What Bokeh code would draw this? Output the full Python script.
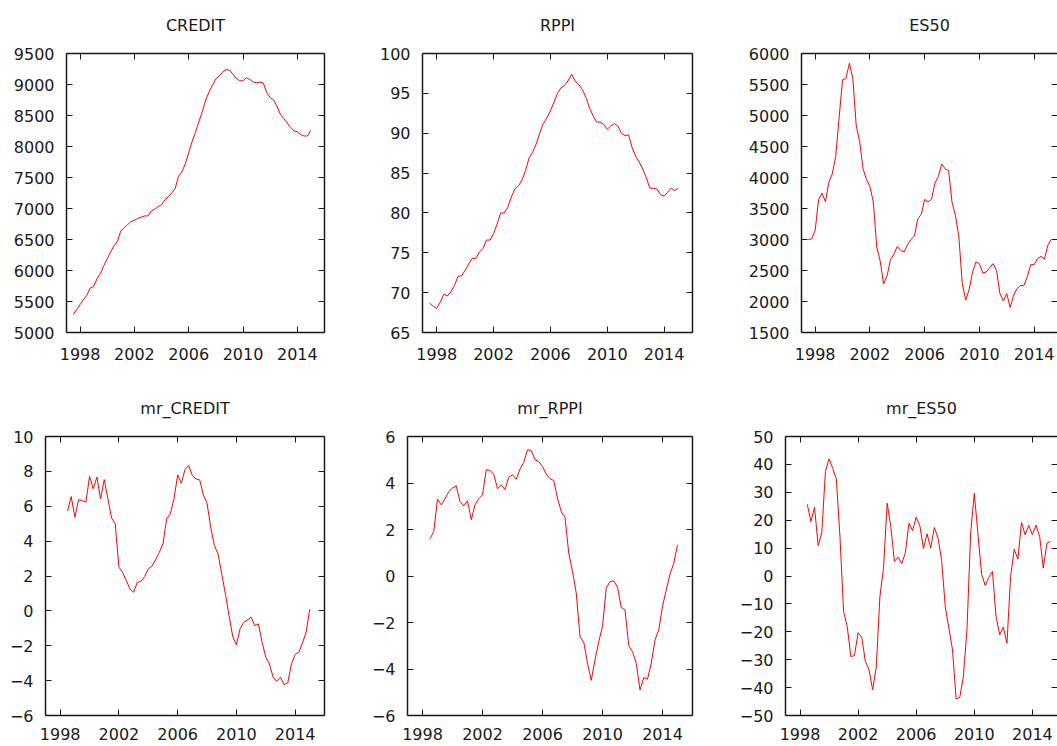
from bokeh.plotting import figure
from bokeh.layouts import column, row
from bokeh.models import LinearAxis, FixedTicker, Range1d, CustomJSTickFormatter
from bokeh.embed import file_html
from bokeh.resources import INLINE

# ---- data (quarterly, x = year + (quarter-1)/4) ----
start_level = 1997.5      # 1997Q3
start_growth = 1998.5     # 1998Q3

credit = [5290, 5370, 5450, 5530, 5600, 5720, 5740, 5870, 5950, 6080,
          6190, 6300, 6400, 6470, 6640, 6690, 6740, 6790, 6810, 6840,
          6860, 6880, 6880, 6960, 6990, 7030, 7060, 7140, 7190, 7250,
          7320, 7520, 7590, 7720, 7900, 8080, 8230, 8400, 8560, 8750,
          8880, 8990, 9090, 9140, 9200, 9240, 9230, 9170, 9100, 9060,
          9060, 9110, 9080, 9040, 9030, 9040, 9020, 8870, 8790, 8750,
          8650, 8520, 8450, 8380, 8310, 8250, 8240, 8190, 8170, 8170,
          8260]

rppi = [68.7, 68.3, 68.0, 68.8, 69.8, 69.6, 70.1, 70.9, 72.05, 72.1,
        72.8, 73.6, 74.3, 74.25, 75.1, 75.5, 76.6, 76.6, 77.4, 78.6,
        80.0, 80.0, 80.7, 82.0, 83.0, 83.4, 84.1, 85.3, 86.9, 87.6,
        88.65, 90.0, 91.2, 91.9, 92.8, 93.9, 95.0, 95.7, 96.0, 96.6,
        97.4, 96.5, 96.1, 95.5, 94.5, 93.2, 92.2, 91.4, 91.4, 91.1,
        90.5, 90.9, 91.2, 90.9, 90.0, 89.7, 89.8, 88.2, 87.1, 86.4,
        85.5, 84.4, 83.1, 83.1, 83.0, 82.3, 82.1, 82.6, 83.1, 82.8,
        83.1]

es50 = [3000, 3010, 3150, 3646, 3748, 3608, 3925, 4058, 4337, 4970,
        5576, 5598, 5845, 5598, 4836, 4579, 4139, 3967, 3855, 3603,
        2879, 2653, 2283, 2407, 2675, 2761, 2889, 2825, 2798, 2916,
        3002, 3056, 3335, 3404, 3646, 3608, 3651, 3908, 4016, 4220,
        4139, 4112, 3603, 3388, 3040, 2289, 2021, 2192, 2476, 2637,
        2611, 2460, 2476, 2546, 2611, 2503, 2128, 2010, 2128, 1903,
        2101, 2208, 2257, 2257, 2396, 2595, 2595, 2691, 2729, 2680,
        2906, 3000]

mr_credit = [5.72, 6.56, 5.37, 6.37, 6.33, 6.23, 7.71, 7.0, 7.67, 6.42,
             7.53, 6.42, 5.33, 4.99, 2.5, 2.22, 1.74, 1.26, 1.07, 1.64,
             1.68, 1.97, 2.41, 2.56, 2.94, 3.36, 3.84, 5.28, 5.56, 6.42,
             7.8, 7.32, 8.11, 8.34, 7.76, 7.57, 7.51, 6.65, 6.18, 4.8,
             3.75, 3.27, 2.12, 0.98, -0.27, -1.47, -1.95, -1.03, -0.65, -0.52,
             -0.36, -0.84, -0.75, -1.8, -2.66, -3.04, -3.8, -4.05, -3.8, -4.23,
             -4.13, -3.04, -2.5, -2.37, -1.84, -1.22, 0.11]

mr_rppi = [1.6, 1.91, 3.3, 3.06, 3.32, 3.63, 3.78, 3.88, 3.2, 3.02,
           3.23, 2.42, 3.06, 3.32, 3.49, 4.57, 4.54, 4.38, 3.75, 3.92,
           3.71, 4.25, 4.35, 4.16, 4.6, 4.88, 5.43, 5.4, 5.0, 4.92,
           4.71, 4.38, 4.18, 4.11, 3.35, 2.77, 2.52, 0.98, 0.19, -0.74,
           -2.6, -2.85, -3.75, -4.49, -3.61, -2.82, -2.17, -0.52, -0.24, -0.21,
           -0.48, -1.35, -1.46, -2.99, -3.25, -3.75, -4.9, -4.37, -4.44, -3.75,
           -2.75, -2.32, -1.31, -0.6, 0.08, 0.55, 1.34]

mr_es50 = [25.7, 19.5, 24.6, 10.9, 15.6, 37.5, 42.0, 38.6, 34.8, 14.2,
           -12.7, -18.1, -28.9, -28.5, -20.3, -22.0, -30.6, -33.6, -40.8, -32.7,
           -7.35, 2.8, 26.1, 17.7, 5.2, 6.75, 4.4, 8.2, 18.9, 16.3,
           21.1, 18.0, 9.9, 15.1, 10.0, 17.4, 13.6, 5.8, -10.9, -18.7,
           -26.5, -44.1, -43.5, -36.0, -18.7, 15.4, 29.7, 15.1, 0.8, -3.4,
           -0.5, 1.6, -14.5, -21.1, -18.3, -24.1, -0.2, 9.6, 6.0, 19.2,
           14.8, 18.1, 14.8, 18.2, 14.2, 2.8, 11.8, 12.4]

year_ticks = [1998, 2002, 2006, 2010, 2014]
credit_ticks = [5000, 5500, 6000, 6500, 7000, 7500, 8000, 8500, 9000, 9500]
rppi_ticks = [65, 70, 75, 80, 85, 90, 95, 100]
es50_ticks = [1500, 2000, 2500, 3000, 3500, 4000, 4500, 5000, 5500, 6000]
mr_credit_ticks = [-6, -4, -2, 0, 2, 4, 6, 8, 10]
mr_rppi_ticks = [-6, -4, -2, 0, 2, 4, 6]
mr_es50_ticks = [-50, -40, -30, -20, -10, 0, 10, 20, 30, 40, 50]


def quarters(start, n):
    return [start + 0.25 * i for i in range(n)]


FONT = "DejaVu Sans"
FSIZE = "16px"
INK = "#1a1a1a"
BLANK = CustomJSTickFormatter(code="return ''")


def style_axis(ax, ticks, labels, standoff):
    ax.ticker = FixedTicker(ticks=ticks)
    ax.major_tick_in = 6
    ax.major_tick_out = 0
    ax.minor_tick_in = 0
    ax.minor_tick_out = 0
    ax.axis_line_color = INK
    ax.axis_line_width = 1.5
    ax.major_tick_line_color = INK
    ax.major_tick_line_width = 1
    ax.major_label_text_font = FONT
    ax.major_label_text_color = INK
    if labels:
        ax.major_label_text_font_size = FSIZE
        ax.major_label_standoff = standoff
    else:
        ax.formatter = BLANK
        ax.major_label_text_font_size = "0px"
        ax.major_label_standoff = 0


def panel(title, xs, ys, yticks, width, height, left, right, top, bottom,
          x_end, x_standoff, title_gap, right_line=True):
    p = figure(width=width, height=height,
               x_range=Range1d(1997, x_end),
               y_range=Range1d(yticks[0], yticks[-1]),
               output_backend="svg", toolbar_location=None,
               x_axis_location=None, y_axis_location=None,
               min_border_left=left, min_border_right=right,
               min_border_top=top, min_border_bottom=bottom)
    p.outline_line_color = None
    p.xgrid.visible = False
    p.ygrid.visible = False
    p.background_fill_color = "white"
    p.border_fill_color = "white"

    bx = LinearAxis()
    style_axis(bx, year_ticks, True, x_standoff)
    p.add_layout(bx, "below")
    ly = LinearAxis()
    style_axis(ly, yticks, True, 12)
    p.add_layout(ly, "left")

    # top frame edge with mirrored ticks; it carries the panel title
    tx = LinearAxis()
    style_axis(tx, year_ticks, False, 0)
    tx.axis_label = title
    tx.axis_label_text_font = FONT
    tx.axis_label_text_font_size = FSIZE
    tx.axis_label_text_font_style = "normal"
    tx.axis_label_text_color = INK
    tx.axis_label_standoff = title_gap
    p.add_layout(tx, "above")

    ry = LinearAxis()
    style_axis(ry, yticks, False, 0)
    if not right_line:
        ry.axis_line_alpha = 0
    p.add_layout(ry, "right")

    p.line(xs, ys, line_color="#ff0000", line_width=1)
    return p


TOP_H, BOT_H = 380, 366

p1 = panel("CREDIT", quarters(start_level, len(credit)), credit, credit_ticks,
           368, TOP_H, 66, 44, 53, 48, 2016, 15, 19)
p2 = panel("RPPI", quarters(start_level, len(rppi)), rppi, rppi_ticks,
           368, TOP_H, 54, 44, 53, 48, 2016, 15, 19)
p3 = panel("ES50", quarters(start_level, len(es50)), es50, es50_ticks,
           321, TOP_H, 65, 0, 53, 48, 1997 + (1057 - 801) * 19 / 260, 15, 19,
           right_line=False)

p4 = panel("mr_CREDIT", quarters(start_growth, len(mr_credit)), mr_credit,
           mr_credit_ticks, 368, BOT_H, 45, 44, 56, 31, 2016, 12, 19)
p5 = panel("mr_RPPI", quarters(start_growth, len(mr_rppi)), mr_rppi,
           mr_rppi_ticks, 368, BOT_H, 34, 44, 56, 31, 2016, 12, 19)
p6 = panel("mr_ES50", quarters(start_growth, len(mr_es50)), mr_es50,
           mr_es50_ticks, 321, BOT_H, 44, 0, 56, 31,
           1997 + (1057 - 780) * 19 / 281, 12, 19, right_line=False)

layout = column(row(p1, p2, p3, spacing=0), row(p4, p5, p6, spacing=0), spacing=0)

open("out.html", "w").write(file_html(layout, INLINE))
